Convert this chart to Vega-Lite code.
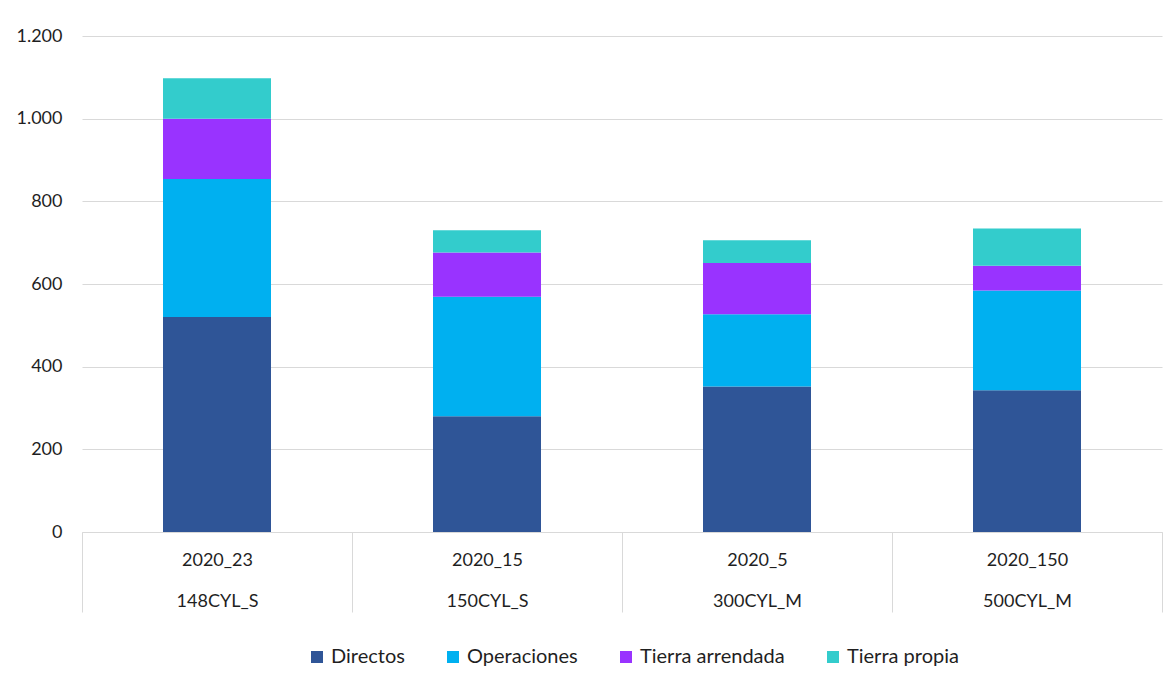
{
  "$schema": "https://vega.github.io/schema/vega-lite/v6.json",
  "autosize": "none",
  "width": 1080,
  "height": 496,
  "padding": {"left": 82, "top": 36, "right": 14, "bottom": 145},
  "background": "white",
  "config": {
    "view": {"stroke": null},
    "font": "Lato",
    "axis": {"labelFont": "Lato", "labelColor": "#1f1f1f", "labelFontSize": 18}
  },
  "data": {
    "values": [
      {"cat": "2020_23|148CYL_S", "ord": 1, "serie": "Directos", "sord": 1, "valor": 520},
      {"cat": "2020_23|148CYL_S", "ord": 1, "serie": "Operaciones", "sord": 2, "valor": 334},
      {"cat": "2020_23|148CYL_S", "ord": 1, "serie": "Tierra arrendada", "sord": 3, "valor": 146},
      {"cat": "2020_23|148CYL_S", "ord": 1, "serie": "Tierra propia", "sord": 4, "valor": 98},
      {"cat": "2020_15|150CYL_S", "ord": 2, "serie": "Directos", "sord": 1, "valor": 280},
      {"cat": "2020_15|150CYL_S", "ord": 2, "serie": "Operaciones", "sord": 2, "valor": 289},
      {"cat": "2020_15|150CYL_S", "ord": 2, "serie": "Tierra arrendada", "sord": 3, "valor": 107},
      {"cat": "2020_15|150CYL_S", "ord": 2, "serie": "Tierra propia", "sord": 4, "valor": 54},
      {"cat": "2020_5|300CYL_M", "ord": 3, "serie": "Directos", "sord": 1, "valor": 352},
      {"cat": "2020_5|300CYL_M", "ord": 3, "serie": "Operaciones", "sord": 2, "valor": 175},
      {"cat": "2020_5|300CYL_M", "ord": 3, "serie": "Tierra arrendada", "sord": 3, "valor": 124},
      {"cat": "2020_5|300CYL_M", "ord": 3, "serie": "Tierra propia", "sord": 4, "valor": 55},
      {"cat": "2020_150|500CYL_M", "ord": 4, "serie": "Directos", "sord": 1, "valor": 343},
      {"cat": "2020_150|500CYL_M", "ord": 4, "serie": "Operaciones", "sord": 2, "valor": 241},
      {"cat": "2020_150|500CYL_M", "ord": 4, "serie": "Tierra arrendada", "sord": 3, "valor": 60},
      {"cat": "2020_150|500CYL_M", "ord": 4, "serie": "Tierra propia", "sord": 4, "valor": 90}
    ]
  },
  "mark": {"type": "bar", "width": {"band": 0.4}},
  "encoding": {
    "x": {
      "field": "cat",
      "type": "nominal",
      "sort": {"field": "ord"},
      "scale": {"paddingInner": 0, "paddingOuter": 0},
      "axis": {
        "title": null,
        "labelAngle": 0,
        "labelExpr": "datum.value ? split(datum.value, '|') : ''",
        "labelLineHeight": 41,
        "labelBaseline": "top",
        "labelPadding": -61,
        "tickBand": "extent",
        "tickSize": 80,
        "tickColor": "#d9d9d9",
        "domainColor": "#d9d9d9",
        "labelFontSize": 18
      }
    },
    "y": {
      "field": "valor",
      "type": "quantitative",
      "aggregate": "sum",
      "stack": "zero",
      "scale": {"domain": [0, 1200], "nice": false},
      "axis": {
        "title": null,
        "values": [0, 200, 400, 600, 800, 1000, 1200],
        "labelExpr": "replace(format(datum.value, ','), ',', '.')",
        "domain": false,
        "ticks": false,
        "gridColor": "#d9d9d9",
        "labelPadding": 20,
        "labelFontSize": 18
      }
    },
    "color": {
      "field": "serie",
      "type": "nominal",
      "sort": ["Directos", "Operaciones", "Tierra arrendada", "Tierra propia"],
      "scale": {
        "domain": ["Directos", "Operaciones", "Tierra arrendada", "Tierra propia"],
        "range": ["#2F5597", "#00B0F0", "#9933FF", "#33CCCC"]
      },
      "legend": {
        "title": null,
        "orient": "none",
        "direction": "horizontal",
        "legendX": 225,
        "legendY": 611,
        "symbolType": "square",
        "symbolSize": 144,
        "symbolStrokeWidth": 0,
        "labelFontSize": 20,
        "labelFont": "Lato",
        "labelColor": "#1f1f1f",
        "columnPadding": 38,
        "labelOffset": 4
      }
    },
    "order": {"field": "sord", "type": "quantitative"}
  }
}
